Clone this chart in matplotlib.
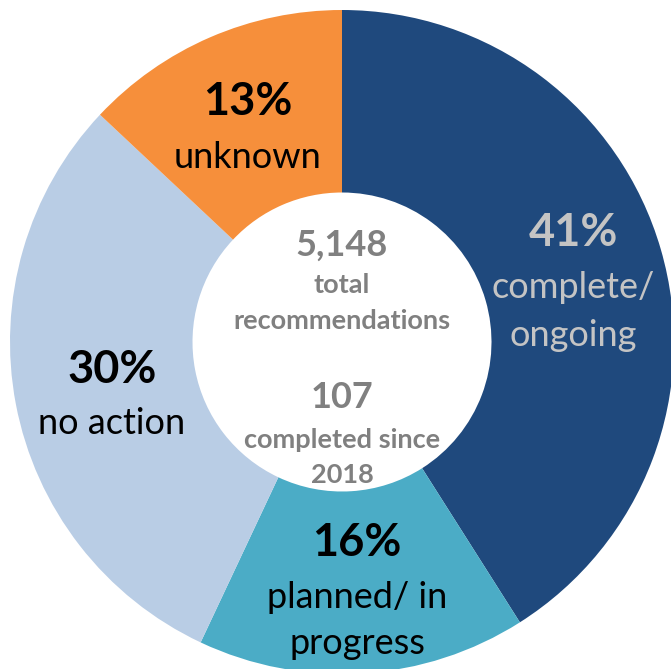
import matplotlib
matplotlib.use("Agg")
import matplotlib.pyplot as plt

# Data
categories = ["complete/\nongoing", "planned/ in\nprogress", "no action", "unknown"]
values = [41, 16, 30, 13]
pct_labels = ["41%", "16%", "30%", "13%"]
colors = ["#1F497D", "#4BACC6", "#B9CDE5", "#F68F3B"]
center_total = "5,148"
center_total_label = "total\nrecommendations"
center_done = "107"
center_done_label = "completed since\n2018"

W, H = 671, 669
fig = plt.figure(figsize=(W / 100, H / 100), dpi=100)
ax = fig.add_axes([0, 0, 1, 1])
ax.set_xlim(0, W)
ax.set_ylim(0, H)
ax.set_aspect("equal")
ax.axis("off")

cx, cy = 342, H - 342
R = 332
ax.pie(values, colors=colors, startangle=90, counterclock=False,
       center=(cx, cy), radius=R,
       wedgeprops=dict(width=R - 149.5, linewidth=0))
ax.set_xlim(0, W)
ax.set_ylim(0, H)

font = "Lato"

def T(x, y, s, size, weight="normal", color="black", ls=1.0):
    ax.text(x, H - y, s, ha="center", va="center", fontsize=size,
            fontweight=weight, color=color, family=font, linespacing=ls)

# Segment labels
lab_pos = [(573, 233, 287, 335), (357, 543, 598, 643), (112, 370, 424, None), (248, 102, 157, None)]
lab_colors = ["#C4C4C4", "black", "black", "black"]
for i in range(4):
    x, yp, y1, y2 = lab_pos[i]
    T(x, yp, pct_labels[i], 32.5, "bold", lab_colors[i])
    lines = categories[i].split("\n")
    T(x, y1, lines[0], 26, "normal", lab_colors[i])
    if len(lines) > 1:
        T(x, y2, lines[1], 26, "normal", lab_colors[i])

grey = "#808080"
T(342, 245, center_total, 26, "bold", grey)
tl = center_total_label.split("\n")
T(342, 285, tl[0], 19.5, "bold", grey)
T(342, 321, tl[1], 19.5, "bold", grey)
T(342, 398, center_done, 26, "bold", grey)
dl = center_done_label.split("\n")
T(342, 440, dl[0], 19.5, "bold", grey)
T(342, 475, dl[1], 19.5, "bold", grey)

fig.savefig("out.png", dpi=100)
